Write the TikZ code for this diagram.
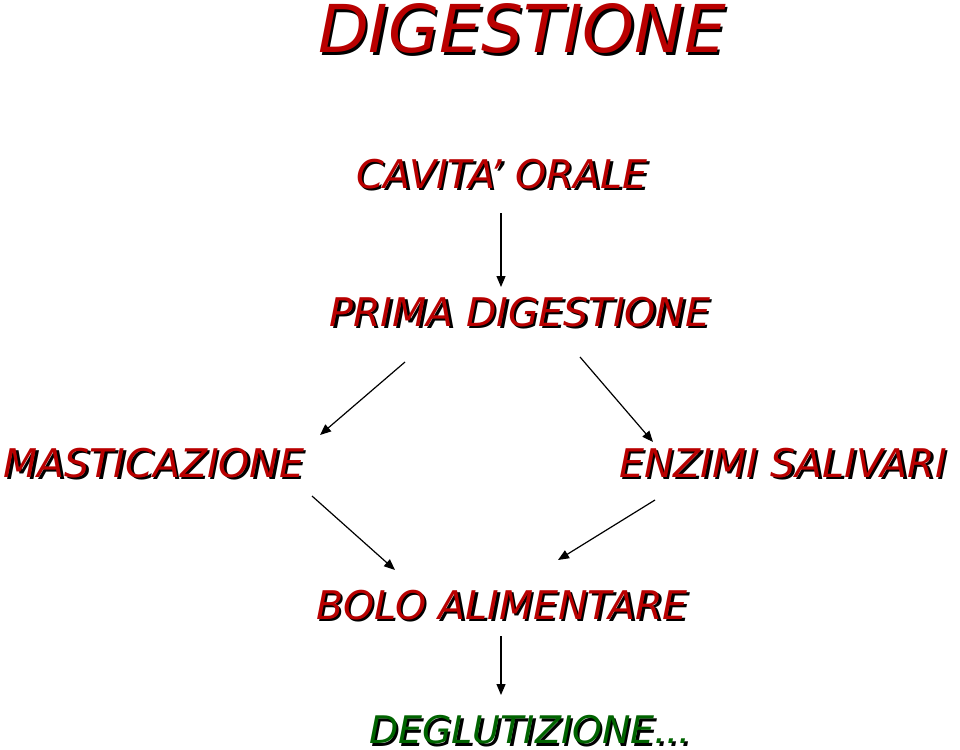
\documentclass[tikz,border=0pt]{standalone}
\usepackage{fontspec}
\setmainfont{DejaVu Sans}
\usetikzlibrary{arrows.meta,calc}
\definecolor{tred}{RGB}{185,0,0}
\definecolor{tgreen}{RGB}{0,100,0}
\newcommand{\shtxt}[2]{\itshape\leavevmode\rlap{\color{black}\kern2.5pt\raisebox{-2.5pt}{#2}}{\color{#1}#2}}
\tikzset{
  lbl/.style={inner sep=0pt, font=\fontsize{39.5}{42}\selectfont},
  ttl/.style={inner sep=0pt, font=\fontsize{66}{70}\selectfont},
  arr/.style={-{Triangle[length=11pt,width=9pt]}, line width=1.2pt, black}
}
\begin{document}
\begin{tikzpicture}[x=1pt,y=-1pt]
\fill[white] (0,0) rectangle (960,749);
\useasboundingbox (0,0) rectangle (960,749);
\node[ttl] (t) at (522,30) {\shtxt{tred}{DIGESTIONE}};
\node[lbl] (co) at (502,175) {\shtxt{tred}{CAVITA' ORALE}};
\node[lbl] (pd) at (520,313) {\shtxt{tred}{PRIMA DIGESTIONE}};
\node[lbl] (ma) at (154,464) {\shtxt{tred}{MASTICAZIONE}};
\node[lbl] (en) at (783,464) {\shtxt{tred}{ENZIMI SALIVARI}};
\node[lbl] (bo) at (502,606) {\shtxt{tred}{BOLO ALIMENTARE}};
\node[lbl,font=\fontsize{38}{40}\selectfont] (de) at (530,731) {\shtxt{tgreen}{DEGLUTIZIONE...}};
\draw[arr] ([shift={(-1,38)}]co.center) -- ([shift={(-19,-26)}]pd.center);
\draw[arr] ([shift={(-115,49)}]pd.center) -- ([shift={(166,-29)}]ma.center);
\draw[arr] ([shift={(60,44)}]pd.center) -- ([shift={(-130,-22)}]en.center);
\draw[arr] ([shift={(158,32)}]ma.center) -- ([shift={(-107,-36)}]bo.center);
\draw[arr] ([shift={(-128,36)}]en.center) -- ([shift={(56,-46)}]bo.center);
\draw[arr] ([shift={(-1,30)}]bo.center) -- ([shift={(-29,-36)}]de.center);
\end{tikzpicture}
\end{document}
